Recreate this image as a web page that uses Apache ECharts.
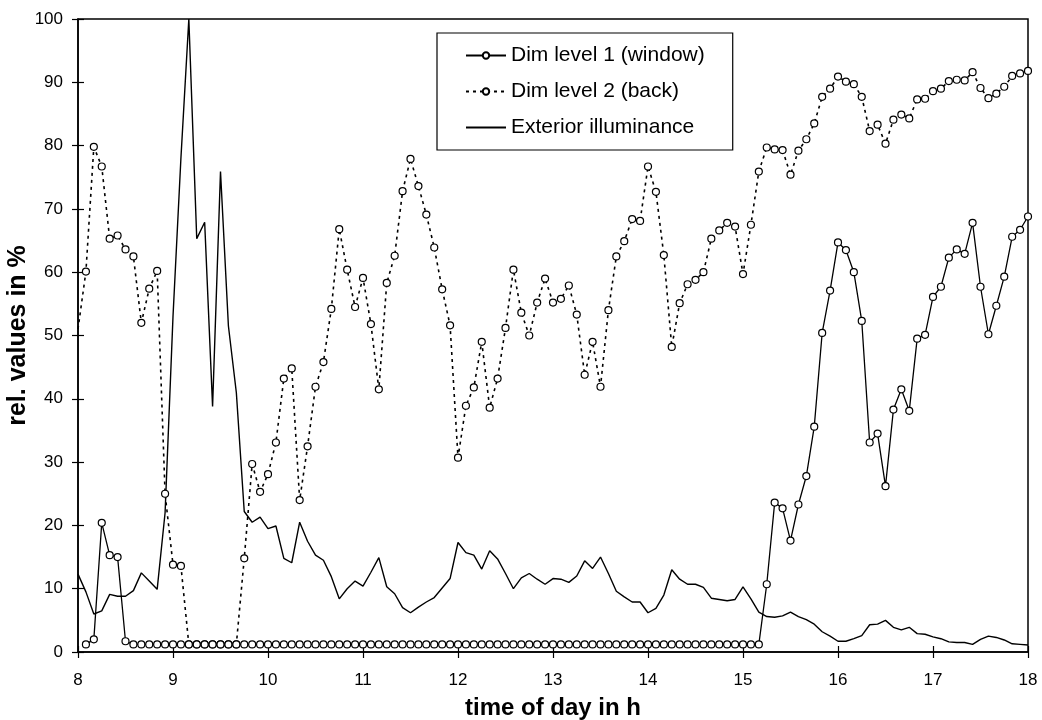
<!DOCTYPE html>
<html>
<head>
<meta charset="utf-8">
<script src="https://cdn.jsdelivr.net/npm/echarts@6/dist/echarts.min.js"></script>
<style>
  html, body { margin: 0; padding: 0; background: #fff; }
  #chart { width: 1042px; height: 720px; }
</style>
</head>
<body>
<div id="chart"></div>
<script>
// readings every 5 minutes, 8:00 .. 18:00 (121 points)
const times = [];
for (let h = 8; h <= 18; h++) {
  for (let m = 0; m < 60; m += 5) {
    if (h === 18 && m > 0) break;
    times.push(h + ':' + (m < 10 ? '0' + m : m));
  }
}

// Dim level 1 (window), %
const dimWindow = [
  null, 1.2, 2.0, 20.4, 15.3, 15.0, 1.7, 1.2, 1.2, 1.2, 1.2, 1.2,
  1.2, 1.2, 1.2, 1.2, 1.2, 1.2, 1.2, 1.2, 1.2, 1.2, 1.2, 1.2,
  1.2, 1.2, 1.2, 1.2, 1.2, 1.2, 1.2, 1.2, 1.2, 1.2, 1.2, 1.2,
  1.2, 1.2, 1.2, 1.2, 1.2, 1.2, 1.2, 1.2, 1.2, 1.2, 1.2, 1.2,
  1.2, 1.2, 1.2, 1.2, 1.2, 1.2, 1.2, 1.2, 1.2, 1.2, 1.2, 1.2,
  1.2, 1.2, 1.2, 1.2, 1.2, 1.2, 1.2, 1.2, 1.2, 1.2, 1.2, 1.2,
  1.2, 1.2, 1.2, 1.2, 1.2, 1.2, 1.2, 1.2, 1.2, 1.2, 1.2, 1.2,
  1.2, 1.2, 1.2, 10.7, 23.6, 22.7, 17.6, 23.3, 27.8, 35.6, 50.4, 57.1,
  64.7, 63.5, 60.0, 52.3, 33.1, 34.5, 26.2, 38.3, 41.5, 38.1, 49.5, 50.1,
  56.1, 57.7, 62.3, 63.6, 62.9, 67.8, 57.7, 50.2, 54.7, 59.3, 65.6, 66.7,
  68.8
];

// Dim level 2 (back), %
const dimBack = [
  51.0, 60.1, 79.8, 76.7, 65.3, 65.8, 63.6, 62.5, 52.0, 57.4, 60.2, 25.0,
  13.8, 13.6, 1.2, 1.2, 1.2, 1.2, 1.2, 1.2, 1.2, 14.8, 29.7, 25.3,
  28.1, 33.1, 43.2, 44.8, 24.0, 32.5, 41.9, 45.8, 54.2, 66.8, 60.4, 54.5,
  59.1, 51.8, 41.5, 58.3, 62.6, 72.8, 77.9, 73.6, 69.1, 63.9, 57.3, 51.6,
  30.7, 38.9, 41.8, 49.0, 38.6, 43.2, 51.2, 60.4, 53.6, 50.0, 55.2, 59.0,
  55.2, 55.8, 57.9, 53.3, 43.8, 49.0, 41.9, 54.0, 62.5, 64.9, 68.4, 68.1,
  76.7, 72.7, 62.7, 48.2, 55.1, 58.1, 58.8, 60.0, 65.3, 66.6, 67.8, 67.2,
  59.7, 67.5, 75.9, 79.7, 79.4, 79.3, 75.4, 79.2, 81.0, 83.5, 87.7, 89.0,
  90.9, 90.1, 89.7, 87.7, 82.3, 83.3, 80.3, 84.1, 84.9, 84.3, 87.3, 87.4,
  88.6, 89.0, 90.2, 90.4, 90.3, 91.6, 89.1, 87.5, 88.2, 89.3, 91.0, 91.4,
  91.8
];

// Exterior illuminance, % of max
const exterior = [
  12.3, 9.5, 6.0, 6.5, 9.1, 8.8, 8.8, 9.7, 12.5, 11.2, 9.9, 22.0,
  53.0, 78.0, 100.0, 65.3, 67.9, 38.8, 75.9, 51.5, 41.0, 22.2, 20.5, 21.3,
  19.5, 19.9, 14.8, 14.1, 20.5, 17.5, 15.3, 14.5, 11.9, 8.4, 10.0, 11.2,
  10.4, 12.6, 14.9, 10.3, 9.2, 7.0, 6.2, 7.1, 7.9, 8.6, 10.1, 11.6,
  17.3, 15.7, 15.3, 13.1, 16.0, 14.7, 12.4, 10.0, 11.7, 12.4, 11.5, 10.7,
  11.6, 11.5, 11.0, 12.0, 14.4, 13.2, 15.0, 12.4, 9.6, 8.7, 7.9, 7.9,
  6.2, 6.9, 9.0, 13.0, 11.5, 10.7, 10.7, 10.2, 8.5, 8.3, 8.1, 8.3,
  10.3, 8.4, 6.3, 5.6, 5.5, 5.7, 6.3, 5.6, 5.1, 4.4, 3.2, 2.5,
  1.7, 1.7, 2.1, 2.6, 4.3, 4.4, 5.0, 3.9, 3.5, 3.9, 2.9, 2.8,
  2.4, 2.1, 1.6, 1.5, 1.5, 1.2, 2.0, 2.5, 2.3, 1.9, 1.3, 1.2,
  1.1
];

const font = 'Liberation Sans, Arial, sans-serif';

const chart = echarts.init(document.getElementById('chart'));

const circle = {
  symbol: 'circle',
  symbolSize: 7,
  itemStyle: { color: '#fff', borderColor: '#000', borderWidth: 1.2 }
};

chart.setOption({
  animation: false,
  backgroundColor: '#fff',
  textStyle: { fontFamily: font, color: '#000' },
  grid: {
    left: 78, right: 14, top: 19, bottom: 68,
    outerBoundsMode: 'none',
    containLabel: false,
    show: true, borderColor: '#000', borderWidth: 1.5, backgroundColor: 'transparent'
  },
  legend: {
    orient: 'vertical',
    left: 437,
    top: 33,
    padding: [12, 28, 12, 28],
    itemGap: 15,
    itemWidth: 40,
    itemHeight: 8,
    borderColor: '#000',
    borderWidth: 1.2,
    backgroundColor: '#fff',
    textStyle: { fontSize: 21, color: '#000', fontFamily: font },
    data: [
      'Dim level 1 (window)',
      'Dim level 2 (back)',
      { name: 'Exterior illuminance', itemStyle: { opacity: 0 } }
    ]
  },
  xAxis: [
    {
      type: 'category',
      data: times,
      boundaryGap: false,
      name: 'time of day in h',
      nameLocation: 'middle',
      nameGap: 44,
      nameMoveOverlap: false,
      nameTextStyle: { fontSize: 24, fontWeight: 'bold', color: '#000' },
      axisLine: { lineStyle: { color: '#000', width: 1.5 } },
      axisTick: { interval: 11, length: 6, lineStyle: { color: '#000', width: 1.2 } },
      axisLabel: {
        interval: 11, margin: 20, fontSize: 17, color: '#000',
        formatter: v => v.split(':')[0]
      },
      splitLine: { show: false }
    },
    {
      type: 'category',
      data: times,
      boundaryGap: false,
      position: 'bottom',
      axisLine: { show: false },
      axisTick: { inside: true, interval: 11, length: 6, lineStyle: { color: '#000', width: 1.2 } },
      axisLabel: { show: false },
      splitLine: { show: false }
    }
  ],
  yAxis: [
    {
      type: 'value',
      min: 0, max: 100, interval: 10,
      name: 'rel. values in %',
      nameLocation: 'middle',
      nameGap: 47,
      nameMoveOverlap: false,
      nameRotate: 90,
      nameTextStyle: { fontSize: 25, fontWeight: 'bold', color: '#000' },
      axisLine: { show: true, lineStyle: { color: '#000', width: 1.5 } },
      axisTick: { show: true, length: 6, lineStyle: { color: '#000', width: 1.2 } },
      axisLabel: { margin: 15, fontSize: 17, color: '#000' },
      splitLine: { show: false }
    },
    {
      type: 'value',
      min: 0, max: 100, interval: 10,
      position: 'left',
      axisLine: { show: false },
      axisTick: { show: true, inside: true, length: 6, lineStyle: { color: '#000', width: 1.2 } },
      axisLabel: { show: false },
      splitLine: { show: false }
    }
  ],
  series: [
    Object.assign({
      name: 'Dim level 1 (window)',
      type: 'line',
      data: dimWindow,
      showAllSymbol: true,
      lineStyle: { color: '#000', width: 1.3, type: 'solid' },
      z: 3
    }, circle),
    Object.assign({
      name: 'Dim level 2 (back)',
      type: 'line',
      data: dimBack.map((v, i) => i === 0 ? { value: v, symbol: 'none' } : v),
      showAllSymbol: true,
      lineStyle: { color: '#000', width: 1.6, type: [3, 4] },
      z: 2
    }, circle),
    {
      name: 'Exterior illuminance',
      type: 'line',
      data: exterior,
      symbol: 'none',
      itemStyle: { color: '#000' },
      lineStyle: { color: '#000', width: 1.4 },
      z: 1
    }
  ]
});
</script>
</body>
</html>
